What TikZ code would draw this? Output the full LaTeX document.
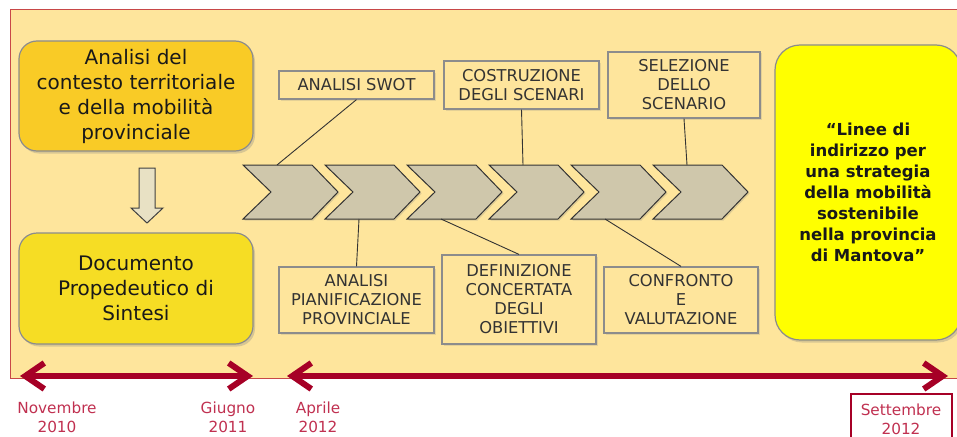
\documentclass[tikz,border=0pt]{standalone}
\usepackage{fontspec}
\setmainfont{DejaVu Sans}
\usepackage{tikz}
\usetikzlibrary{
    calc,
    positioning,
    arrows.meta,
    shadows
}

\begin{document}
\begin{tikzpicture}[
    x=1pt, y=-1pt,
    font=\fontsize{16.3}{19}\selectfont,
    box/.style={
    	draw=my-gray, line width=1.2pt,
    	minimum width=234pt, minimum height=110pt,
    	rounded corners=18pt, inner sep=0pt, align=center,
    	font=\fontsize{20}{25}\selectfont, text=black!90,
    	drop shadow={opacity=.3, shadow xshift=2pt, shadow yshift=-2.5pt}
    }, lbl/.style={
    	draw=my-gray, line width=1.2pt, fill=my-panel,
    	inner sep=0pt, align=center, text=black!80,
    	drop shadow={opacity=.2, shadow xshift=1.5pt, shadow yshift=-1.5pt}
    }, chev/.style={
    	draw=black!80, line width=1pt, fill=my-chev,
    	drop shadow={opacity=.25, shadow xshift=1.5pt, shadow yshift=-1.5pt}
    }, downarr/.style={
    	draw=black!75, fill=my-beige, line width=1pt
    }, tick/.style={
    	draw=black!80, line width=0.9pt
    }, pil/.style={
    	<->, >={Straight Barb[length=19pt,width=26pt]},
    	draw=my-red, line width=6pt
    }, date/.style={
    	text=my-date, align=center, inner sep=0pt,
    	font=\fontsize{15.3}{19}\selectfont
    }]
    \definecolor{my-panel}{RGB}{254, 229, 156}
    \definecolor{my-border}{RGB}{200, 72, 72}
    \definecolor{my-gold}{RGB}{249, 203, 38}
    \definecolor{my-yellow}{RGB}{246, 221, 36}
    \definecolor{my-lemon}{RGB}{255, 255, 0}
    \definecolor{my-chev}{RGB}{207, 199, 171}
    \definecolor{my-beige}{RGB}{232, 225, 196}
    \definecolor{my-gray}{RGB}{140, 140, 140}
    \definecolor{my-red}{RGB}{166, 0, 38}
    \definecolor{my-date}{RGB}{192, 48, 80}

    \useasboundingbox (0,0) rectangle (957,436);
    \clip (0,0) rectangle (957,436);

    \fill[my-panel, draw=my-border, line width=0.8pt] (10,9) rectangle (980,378);

    %%% left column
    \node[box, fill=my-gold] (contesto) at (136,96) {Analisi del\\contesto territoriale\\e della mobilità\\provinciale};
    \node[box, fill=my-yellow, minimum height=111pt] (documento) at (136,288.5) {Documento\\Propedeutico di\\Sintesi};
    \draw[downarr] (139,168) -- (155,168) -- (155,208) -- (163,208) -- (147,223) -- (131,208) -- (139,208) -- cycle;
    %%% left column

    %%% chevrons
    \foreach \i in {1,...,6} {
        \pgfmathsetmacro\xl{243+82*(\i-1)}
        \draw[chev] (\xl,165) -- ++(69,0) -- ++(26,27) -- ++(-26,27) -- ++(-69,0) -- ++(28,-27) -- cycle;
        \coordinate (c\i-top) at (\xl+34,165);
        \coordinate (c\i-bot) at (\xl+34,219);
    }

    \node[lbl, minimum width=155pt, minimum height=28pt] (swot) at (356.5,85) {ANALISI SWOT};
    \node[lbl, minimum width=155pt, minimum height=48pt] (scenari) at (521.5,85) {COSTRUZIONE\\DEGLI SCENARI};
    \node[lbl, minimum width=152pt, minimum height=66pt] (selezione) at (684,85) {SELEZIONE\\DELLO\\SCENARIO};

    \node[lbl, minimum width=155pt, minimum height=66pt] (pianif) at (356.5,300) {ANALISI\\PIANIFICAZIONE\\PROVINCIALE};
    \node[lbl, minimum width=154pt, minimum height=89pt] (obiettivi) at (519,299.5) {DEFINIZIONE\\CONCERTATA\\DEGLI\\OBIETTIVI};
    \node[lbl, minimum width=154pt, minimum height=66pt] (confronto) at (681,300) {CONFRONTO\\E\\VALUTAZIONE};
    %%% chevrons

    \node[box, fill=my-lemon, minimum width=186pt, minimum height=295pt, rounded corners=25pt,
        font=\bfseries\fontsize{16.5}{21}\selectfont] (linee) at (868,192.5)
        {“Linee di\\indirizzo per\\una strategia\\della mobilità\\sostenibile\\nella provincia\\di Mantova”};

    %%% timeline
    \coordinate (t1-start) at (20,376);
    \coordinate (t1-end) at (253,376);
    \coordinate (t2-start) at (287,376);
    \coordinate (t2-end) at (948,376);

    \node[date] (novembre) at (57,417) {Novembre\\2010};
    \node[date] (giugno) at (228,417) {Giugno\\2011};
    \node[date] (aprile) at (318,417) {Aprile\\2012};
    \node[date, draw=my-red, line width=2pt, minimum width=101pt, minimum height=50pt, anchor=north] (settembre) at (901,393) {Settembre\\2012};
    %%% timeline

    %%% EDGES
    \draw[tick] (swot.south) -- (c1-top);
    \draw[tick] (scenari.south) -- (c4-top);
    \draw[tick] (selezione.south) -- (c6-top);
    \draw[tick] (pianif.north) -- (c2-bot);
    \draw[tick] (obiettivi.north) -- (c3-bot);
    \draw[tick] (confronto.north) -- (c5-bot);

    \draw[pil] (t1-start) -- (t1-end);
    \draw[pil] (t2-start) -- (t2-end);
    %%% EDGES

\end{tikzpicture}
\end{document}
